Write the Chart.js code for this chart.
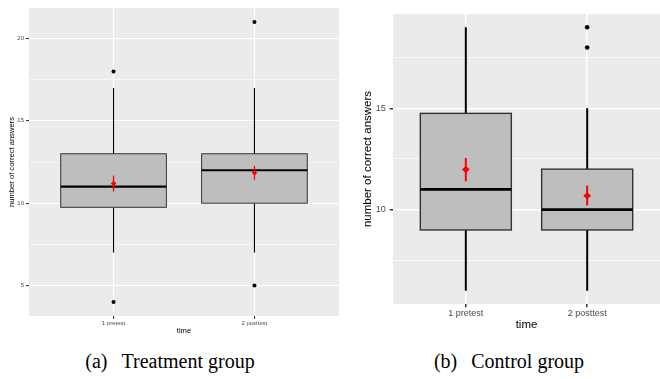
<!DOCTYPE html>
<html>
<head>
<meta charset="utf-8">
<script src="https://cdn.jsdelivr.net/npm/chart.js@4/dist/chart.umd.min.js"></script>
<style>
  body { margin: 0; background: #fff; width: 660px; height: 379px; overflow: hidden; position: relative; }
  .panel { position: absolute; top: 0; height: 340px; }
  .caption { position: absolute; top: 351px; width: 300px; text-align: center;
             font-family: "Liberation Serif", "Times New Roman", serif; font-size: 20px; line-height: 20px; color: #000; }
  .caption span { margin-left: 0.7em; }
</style>
</head>
<body>
<div class="panel" style="left:0;width:343px"><canvas id="treatChart"></canvas></div>
<div class="panel" style="left:343px;width:321px"><canvas id="controlChart"></canvas></div>
<div class="caption" style="left:20px">(a)<span>Treatment group</span></div>
<div class="caption" style="left:359px">(b)<span>Control group</span></div>
<script>
const times = ['1 pretest', '2 posttest'];

// treatment group
const treatLow = [7, 7];
const treatQ1 = [9.75, 10];
const treatMedian = [11, 12];
const treatQ3 = [13, 13];
const treatHigh = [17, 17];
const treatOutliers = [[18, 4], [21, 5]];
const treatMean = [11.2, 11.85];
const treatCiLow = [10.71, 11.42];
const treatCiHigh = [11.68, 12.27];
const treatMajorTicks = [5, 10, 15, 20];
const treatMinorTicks = [7.5, 12.5, 17.5];

// control group
const ctrlLow = [6, 6];
const ctrlQ1 = [9, 9];
const ctrlMedian = [11, 10];
const ctrlQ3 = [14.75, 12];
const ctrlHigh = [19, 15];
const ctrlOutliers = [[], [18, 19]];
const ctrlMean = [11.98, 10.69];
const ctrlCiLow = [11.4, 10.21];
const ctrlCiHigh = [12.55, 11.19];
const ctrlMajorTicks = [10, 15];
const ctrlMinorTicks = [7.5, 12.5, 17.5];

function boxPlugin(box, st) {
    return {
        id: 'boxes',
        beforeDraw(chart) {
            const a = chart.chartArea;
            chart.ctx.save();
            chart.ctx.fillStyle = '#EBEBEB';
            chart.ctx.fillRect(a.left, a.top, a.right - a.left, a.bottom - a.top);
            chart.ctx.restore();
        },
        beforeDatasetsDraw(chart) {
            const ctx = chart.ctx;
            const x = chart.scales.x, y = chart.scales.y;
            ctx.save();
            box.median.forEach((m, i) => {
                const cx = x.getPixelForValue(i + 1);
                const x0 = x.getPixelForValue(i + 1 - 0.375);
                const x1 = x.getPixelForValue(i + 1 + 0.375);
                // whiskers
                ctx.strokeStyle = '#000';
                ctx.lineWidth = st.whisker;
                ctx.beginPath();
                ctx.moveTo(cx, y.getPixelForValue(box.low[i]));
                ctx.lineTo(cx, y.getPixelForValue(box.q1[i]));
                ctx.moveTo(cx, y.getPixelForValue(box.q3[i]));
                ctx.lineTo(cx, y.getPixelForValue(box.high[i]));
                ctx.stroke();
                // box
                const yt = y.getPixelForValue(box.q3[i]);
                const yb = y.getPixelForValue(box.q1[i]);
                ctx.fillStyle = '#BEBEBE';
                ctx.fillRect(x0, yt, x1 - x0, yb - yt);
                ctx.strokeStyle = '#333333';
                ctx.lineWidth = st.border;
                ctx.strokeRect(x0, yt, x1 - x0, yb - yt);
                // median
                ctx.strokeStyle = '#000';
                ctx.lineWidth = st.median;
                ctx.beginPath();
                ctx.moveTo(x0, y.getPixelForValue(m));
                ctx.lineTo(x1, y.getPixelForValue(m));
                ctx.stroke();
                // error bar of the mean
                ctx.strokeStyle = '#FF0000';
                ctx.lineWidth = st.err;
                ctx.beginPath();
                ctx.moveTo(cx, y.getPixelForValue(box.ciLow[i]));
                ctx.lineTo(cx, y.getPixelForValue(box.ciHigh[i]));
                ctx.stroke();
            });
            ctx.restore();
        }
    };
}

function makePanel(id, box, majorTicks, minorTicks, st) {
    const all = box.low.concat(box.high, box.outliers.flat());
    const lo = Math.min(...all), hi = Math.max(...all);
    const pad = (hi - lo) * 0.05;
    const outlierPts = box.outliers.flatMap((vals, i) => vals.map(v => ({ x: i + 1, y: v })));
    const meanPts = box.mean.map((v, i) => ({ x: i + 1, y: v }));

    new Chart(document.getElementById(id), {
        type: 'scatter',
        data: {
            datasets: [
                {
                    data: outlierPts,
                    pointRadius: st.outlier,
                    pointBackgroundColor: '#000',
                    pointBorderWidth: 0
                },
                {
                    data: meanPts,
                    pointStyle: 'rectRot',
                    pointRadius: st.mean,
                    pointBackgroundColor: '#FF0000',
                    pointBorderWidth: 0
                }
            ]
        },
        options: {
            responsive: true,
            maintainAspectRatio: false,
            animation: false,
            layout: { padding: { top: st.top, left: 0, right: 0, bottom: 0 } },
            plugins: { legend: { display: false }, tooltip: { enabled: false } },
            scales: {
                x: {
                    type: 'linear',
                    min: 0.4,
                    max: 2.6,
                    afterBuildTicks: scale => { scale.ticks = times.map((t, i) => ({ value: i + 1 })); },
                    afterFit: scale => { scale.height = st.xHeight; },
                    ticks: {
                        autoSkip: false,
                        maxRotation: 0,
                        padding: 1,
                        color: '#4D4D4D',
                        font: { family: 'Liberation Sans', size: st.tickFont },
                        callback: v => times[v - 1]
                    },
                    grid: { color: '#FFFFFF', lineWidth: st.grid, tickColor: '#333333', tickLength: st.tickLen, tickWidth: st.grid },
                    border: { display: false },
                    title: {
                        display: true,
                        text: 'time',
                        color: '#000',
                        font: { family: 'Liberation Sans', size: st.titleFont },
                        padding: { top: 0, bottom: st.xTitlePad }
                    }
                },
                y: {
                    min: lo - pad,
                    max: hi + pad,
                    afterBuildTicks: scale => {
                        scale.ticks = majorTicks.concat(minorTicks).sort((a, b) => a - b).map(v => ({ value: v }));
                    },
                    afterFit: scale => { scale.width = st.yWidth; },
                    ticks: {
                        autoSkip: false,
                        padding: st.yTickPad,
                        color: '#4D4D4D',
                        font: { family: 'Liberation Sans', size: st.tickFont },
                        callback: v => majorTicks.includes(v) ? String(v) : ''
                    },
                    grid: {
                        color: '#FFFFFF',
                        lineWidth: c => c.tick && majorTicks.includes(c.tick.value) ? st.grid : st.grid / 2,
                        tickColor: c => c.tick && majorTicks.includes(c.tick.value) ? '#333333' : 'rgba(0,0,0,0)',
                        tickLength: st.tickLen,
                        tickWidth: st.grid
                    },
                    border: { display: false },
                    title: {
                        display: true,
                        text: 'number of correct answers',
                        color: '#000',
                        font: { family: 'Liberation Sans', size: st.titleFont },
                        padding: { top: st.yTitlePad, bottom: 0 }
                    }
                }
            }
        },
        plugins: [boxPlugin(box, st)]
    });
}

makePanel('treatChart', {
    low: treatLow, q1: treatQ1, median: treatMedian, q3: treatQ3, high: treatHigh,
    outliers: treatOutliers, mean: treatMean, ciLow: treatCiLow, ciHigh: treatCiHigh
}, treatMajorTicks, treatMinorTicks, {
    top: 8, xHeight: 24, yWidth: 29, tickFont: 6, titleFont: 7.6, tickLen: 3,
    xTitlePad: 4.6, yTitlePad: 7, yTickPad: 2, grid: 1.1,
    whisker: 1.1, border: 1, median: 2.2, err: 1.3, outlier: 2, mean: 2.8
});

makePanel('controlChart', {
    low: ctrlLow, q1: ctrlQ1, median: ctrlMedian, q3: ctrlQ3, high: ctrlHigh,
    outliers: ctrlOutliers, mean: ctrlMean, ciLow: ctrlCiLow, ciHigh: ctrlCiHigh
}, ctrlMajorTicks, ctrlMinorTicks, {
    top: 14, xHeight: 36, yWidth: 50, tickFont: 9, titleFont: 11.5, tickLen: 3.3,
    xTitlePad: 8, yTitlePad: 18.4, yTickPad: 4, grid: 1.5,
    whisker: 2, border: 1.4, median: 2.8, err: 2, outlier: 2.3, mean: 3.8
});
</script>
</body>
</html>
